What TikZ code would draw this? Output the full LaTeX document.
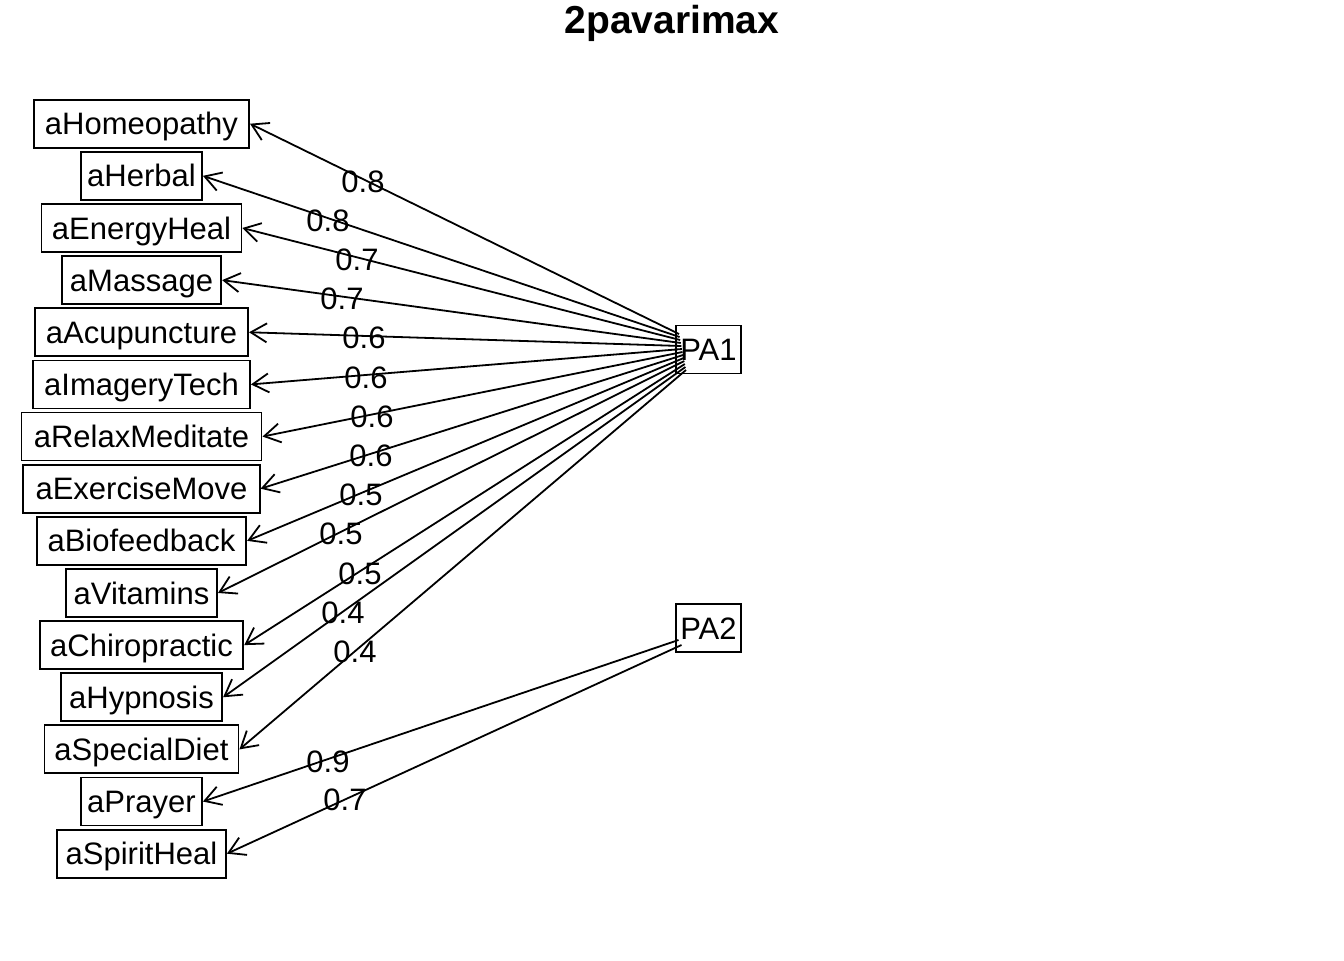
\documentclass[tikz,border=0pt]{standalone}
\usepackage{fontspec}
\setmainfont{Liberation Sans}
\newfontfamily\diafont{Liberation Sans}
\usetikzlibrary{arrows.meta,calc}
\newcommand\padbox[1]{\makebox[1.115\width]{#1}}

\begin{document}
\begin{tikzpicture}[x=0.5pt,y=-0.5pt,
  var/.style={draw,line width=0.9pt,font=\diafont\fontsize{15.5}{15.5}\selectfont,
    text height=11.1pt,text depth=0pt,minimum height=24pt,inner xsep=0pt,inner ysep=0pt},
  fac/.style={var,inner xsep=2pt},
  load/.style={font=\diafont\fontsize{15.5}{15.5}\selectfont,text height=11.1pt,text depth=0pt,inner sep=0pt},
  loadpath/.style={line width=0.9pt,-{Straight Barb[length=8pt,width=9.5pt]}}]
\useasboundingbox (0,0) rectangle (1344,960);
\node[font=\diafont\bfseries\fontsize{19.5}{19.5}\selectfont,text height=14pt,text depth=0pt,inner sep=0pt] (title) at (672,19.5) {2pavarimax};
\foreach \vname [count=\i from 0] in {aHomeopathy,aHerbal,aEnergyHeal,aMassage,aAcupuncture,aImageryTech,aRelaxMeditate,aExerciseMove,aBiofeedback,aVitamins,aChiropractic,aHypnosis,aSpecialDiet,aPrayer,aSpiritHeal}
  \node[var] (\vname) at (141.5,{123.7+52.14*\i}) {\padbox{\vname}};
\node[fac] (PA1) at (708.5,349.5) {PA1};
\node[fac] (PA2) at (708.5,628) {PA2};
\foreach \vname/\lx/\lval [count=\i from 0] in {aHomeopathy/363/0.8,aHerbal/328/0.8,aEnergyHeal/357/0.7,aMassage/342/0.7,aAcupuncture/364/0.6,aImageryTech/366/0.6,aRelaxMeditate/372/0.6,aExerciseMove/371/0.6,aBiofeedback/361/0.5,aVitamins/341/0.5,aChiropractic/360/0.5,aHypnosis/343/0.4,aSpecialDiet/355/0.4}
{
  \draw[loadpath] ($(PA1)+({-29.5+7*\i/12},{-15.5+36*\i/12})$) -- (\vname.east);
  \node[load] (l\i) at (\lx,{181+39.2*\i}) {\lval};
}
\draw[loadpath] ($(PA2)+(-30,12)$) -- (aPrayer.east);
\draw[loadpath] ($(PA2)+(-27,17)$) -- (aSpiritHeal.east);
\node[load] (l13) at (328,761) {0.9};
\node[load] (l14) at (345,799.5) {0.7};
\end{tikzpicture}
\end{document}
